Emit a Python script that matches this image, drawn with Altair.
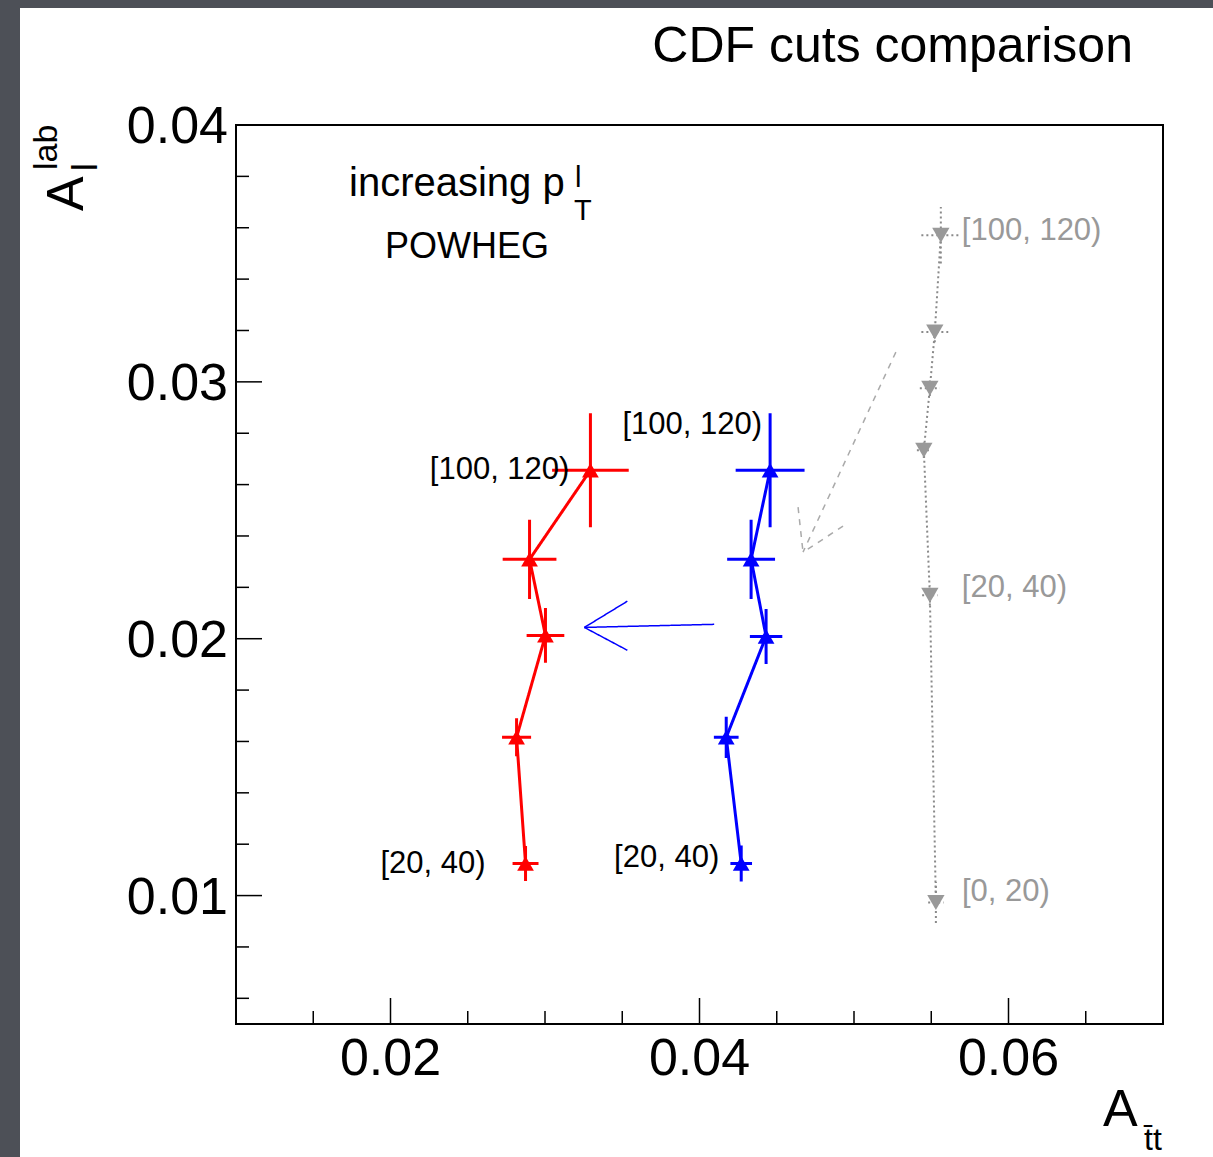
import altair as alt
import pandas as pd

# ---------------- data ----------------
bins_rb = ["[20, 40)", "[40, 60)", "[60, 80)", "[80, 100)", "[100, 120)"]
red_x = [0.02874, 0.02816, 0.03003, 0.02900, 0.03294]
red_y = [0.01125, 0.01616, 0.02013, 0.02309, 0.02656]
red_xerr = [0.00084, 0.00094, 0.00122, 0.00174, 0.00248]
red_yerr = [0.00068, 0.00074, 0.00107, 0.00154, 0.00222]

blue_x = [0.04270, 0.04173, 0.04431, 0.04334, 0.04457]
blue_y = [0.01125, 0.01616, 0.02009, 0.02309, 0.02656]
blue_xerr = [0.00070, 0.00080, 0.00105, 0.00155, 0.00223]
blue_yerr = [0.00070, 0.00080, 0.00107, 0.00154, 0.00222]

bins_g = ["[0, 20)", "[20, 40)", "[40, 60)", "[60, 80)", "[80, 100)", "[100, 120)"]
gray_x = [0.05530, 0.05491, 0.05452, 0.05491, 0.05523, 0.05562]
gray_y = [0.00973, 0.02169, 0.02734, 0.02975, 0.03194, 0.03571]
gray_xerr = [0.0005, 0.0005, 0.00045, 0.00065, 0.00087, 0.00126]
gray_yerr = [0.0008, 0.0004, 0.0003, 0.0003, 0.0004, 0.0011]

# arrows: tail, tip, barb1, barb2
blue_arrow_x = [0.04095, 0.03255, 0.03533, 0.03533]
blue_arrow_y = [0.02056, 0.02044, 0.02146, 0.01955]
gray_arrow_x = [0.05271, 0.04670, 0.04638, 0.04929]
gray_arrow_y = [0.03116, 0.02337, 0.02512, 0.02438]

x_major = [0.02, 0.04, 0.06]
x_major_labels = ["0.02", "0.04", "0.06"]
x_minor = [0.015, 0.025, 0.03, 0.035, 0.045, 0.05, 0.055, 0.065]
y_major = [0.01, 0.02, 0.03, 0.04]
y_major_labels = ["0.01", "0.02", "0.03", "0.04"]
y_minor = [0.006, 0.008, 0.012, 0.014, 0.016, 0.018, 0.022, 0.024, 0.026,
           0.028, 0.032, 0.034, 0.036, 0.038]

# ---------------- layout ----------------
W, H = 927, 899
FONT = "Liberation Sans"
RED, BLUE, GRAY = "#ff0000", "#0000ff", "#999999"

xs = alt.Scale(domain=[0.01, 0.07], nice=False, zero=False)
ys = alt.Scale(domain=[0.005, 0.04], nice=False, zero=False)

one = pd.DataFrame({"a": [0]})


def series_df(xv, yv, xe, ye, bins):
    d = pd.DataFrame({"x": xv, "y": yv, "xe": xe, "ye": ye, "bin": bins})
    d["order"] = range(len(d))
    d["xlo"] = d["x"] - d["xe"]
    d["xhi"] = d["x"] + d["xe"]
    d["ylo"] = d["y"] - d["ye"]
    d["yhi"] = d["y"] + d["ye"]
    return d


red = series_df(red_x, red_y, red_xerr, red_yerr, bins_rb)
blue = series_df(blue_x, blue_y, blue_xerr, blue_yerr, bins_rb)
gray = series_df(gray_x, gray_y, gray_xerr, gray_yerr, bins_g)


def series_layers(d, color, width, dash, shape, size, line_dash, line_color=None):
    base = alt.Chart(d)
    lc = line_color or color
    xe = base.mark_rule(color=lc, strokeWidth=width, strokeDash=dash).encode(
        x=alt.X("xlo:Q", scale=xs, axis=None), x2="xhi:Q",
        y=alt.Y("y:Q", scale=ys, axis=None))
    ye = base.mark_rule(color=lc, strokeWidth=width, strokeDash=dash).encode(
        x=alt.X("x:Q", scale=xs, axis=None),
        y=alt.Y("ylo:Q", scale=ys, axis=None), y2="yhi:Q")
    ln = base.mark_line(color=lc, strokeWidth=width, strokeDash=line_dash).encode(
        x=alt.X("x:Q", scale=xs, axis=None), y=alt.Y("y:Q", scale=ys, axis=None),
        order="order:Q")
    pt = base.mark_point(shape=shape, size=size, filled=True, color=color, opacity=1).encode(
        x=alt.X("x:Q", scale=xs, axis=None), y=alt.Y("y:Q", scale=ys, axis=None))
    return [xe, ye, ln, pt]


def arrow(xv, yv, color, width, dash):
    segs = pd.DataFrame({
        "x": [xv[0], xv[2], xv[3]], "y": [yv[0], yv[2], yv[3]],
        "x2": [xv[1]] * 3, "y2": [yv[1]] * 3})
    return alt.Chart(segs).mark_rule(color=color, strokeWidth=width, strokeDash=dash).encode(
        x=alt.X("x:Q", scale=xs, axis=None), x2="x2:Q",
        y=alt.Y("y:Q", scale=ys, axis=None), y2="y2:Q")


def point_label(d, idx, color, align, dx, dy):
    row = d.iloc[[idx]]
    return alt.Chart(row).mark_text(font=FONT, fontSize=31, color=color, align=align,
                                    baseline="middle", dx=dx, dy=dy).encode(
        x=alt.X("x:Q", scale=xs, axis=None), y=alt.Y("y:Q", scale=ys, axis=None),
        text="bin:N")


def free_text(txt, x, y, size, align="left", baseline="alphabetic", angle=0, color="black"):
    kw = dict(font=FONT, fontSize=size, color=color, align=align, baseline=baseline)
    if angle:
        kw["angle"] = angle
    return alt.Chart(one).mark_text(**kw).encode(
        x=alt.value(x), y=alt.value(y), text=alt.value(txt))


# white panel over the dark slide background
panel = alt.Chart(one).mark_rect(color="white").encode(
    x=alt.value(-216), x2=alt.value(977), y=alt.value(-117), y2=alt.value(1032))

frame = alt.Chart(one).mark_rect(filled=False, stroke="black", strokeWidth=2).encode(
    x=alt.value(0), x2=alt.value(W), y=alt.value(0), y2=alt.value(H))

tick_style = dict(color="black", strokeWidth=1.5)
xmaj = alt.Chart(pd.DataFrame({"v": x_major})).mark_rule(**tick_style).encode(
    x=alt.X("v:Q", scale=xs, axis=None), y=alt.value(H), y2=alt.value(H - 26))
xmin = alt.Chart(pd.DataFrame({"v": x_minor})).mark_rule(**tick_style).encode(
    x=alt.X("v:Q", scale=xs, axis=None), y=alt.value(H), y2=alt.value(H - 13))
ymaj = alt.Chart(pd.DataFrame({"v": y_major})).mark_rule(**tick_style).encode(
    y=alt.Y("v:Q", scale=ys, axis=None), x=alt.value(0), x2=alt.value(26))
ymin = alt.Chart(pd.DataFrame({"v": y_minor})).mark_rule(**tick_style).encode(
    y=alt.Y("v:Q", scale=ys, axis=None), x=alt.value(0), x2=alt.value(13))

xlab = alt.Chart(pd.DataFrame({"v": x_major, "t": x_major_labels})).mark_text(
    font=FONT, fontSize=52, color="black", align="center", baseline="alphabetic").encode(
    x=alt.X("v:Q", scale=xs, axis=None), y=alt.value(1075 - 125), text="t:N")
ylab = alt.Chart(pd.DataFrame({"v": y_major, "t": y_major_labels})).mark_text(
    font=FONT, fontSize=52, color="black", align="right", baseline="alphabetic", dy=18).encode(
    y=alt.Y("v:Q", scale=ys, axis=None), x=alt.value(-8), text="t:N")

layers = [panel, xmaj, xmin, ymaj, ymin, xlab, ylab]
layers += series_layers(gray, GRAY, 2, [2, 3], "triangle-down", 300, [2, 3], "#8a8a8a")
layers += series_layers(red, RED, 3, [1, 0], "triangle-up", 280, [1, 0])
layers += series_layers(blue, BLUE, 3, [1, 0], "triangle-up", 280, [1, 0])
layers += [
    arrow(blue_arrow_x, blue_arrow_y, BLUE, 1.5, [1, 0]),
    arrow(gray_arrow_x, gray_arrow_y, "#aaaaaa", 1.5, [6, 6]),
    point_label(red, 4, "black", "right", -21, 0),
    point_label(red, 0, "black", "right", -40, 1),
    point_label(blue, 4, "black", "right", -8, -45),
    point_label(blue, 0, "black", "right", -22, -5),
    point_label(gray, 5, GRAY, "left", 21, -4),
    point_label(gray, 1, GRAY, "left", 32, -7),
    point_label(gray, 0, GRAY, "left", 26, -11),
    # title
    free_text("CDF cuts comparison", 1133 - 236, 62 - 125, 50, align="right"),
    # in-plot annotations
    free_text("increasing p", 349 - 236, 196 - 125, 40),
    free_text("l", 575 - 236, 187 - 125, 29),
    free_text("T", 574 - 236, 220 - 125, 29),
    free_text("POWHEG", 385 - 236, 258 - 125, 36),
    # y axis title  A_l^lab
    free_text("A", 83 - 236, 211 - 125, 52, angle=270),
    free_text("l", 97 - 236, 171 - 125, 35, angle=270),
    free_text("lab", 57 - 236, 170 - 125, 34, angle=270),
    # x axis title  A_tt
    free_text("A", 1103 - 236, 1126 - 125, 52),
    free_text("t\u0304t", 1144 - 236, 1150 - 125, 32),
    frame,
]

chart = alt.layer(*layers).properties(
    width=W, height=H,
    padding={"left": 236, "top": 125, "right": 50, "bottom": 133},
    autosize=alt.AutoSizeParams(type="none"),
    background="#4d5057",
).configure_view(stroke=None)

chart.save("out.html", embed_options={"renderer": "svg", "actions": False})
